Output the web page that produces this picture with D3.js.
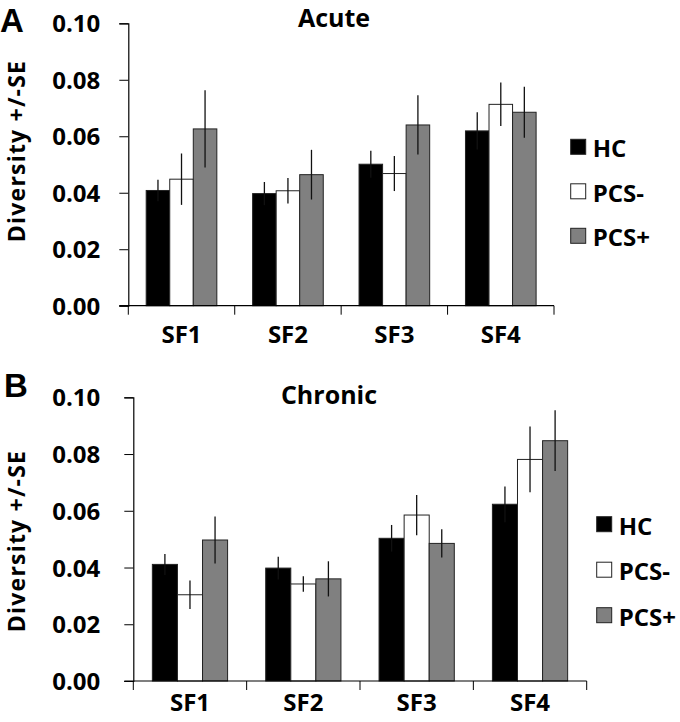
<!DOCTYPE html>
<html>
<head>
<meta charset="utf-8">
<script src="https://cdn.jsdelivr.net/npm/d3@7"></script>
<style>
body { margin: 0; background: #fff; }
text { font-family: "Open Sans", Lato, sans-serif; font-weight: bold; fill: #000; }
.letter { font-family: "Liberation Sans", Arial, sans-serif; }
</style>
</head>
<body>
<script>
//categories, groups and tick values
var categories = ["SF1", "SF2", "SF3", "SF4"];
var groups = ["HC", "PCS-", "PCS+"];
var groupColors = ["#000000", "#ffffff", "#808080"];
var yTicks = [0, 0.02, 0.04, 0.06, 0.08, 0.10];

//acute panel: means and standard errors per group
var acuteHC = [0.0408, 0.0397, 0.0501, 0.0619];
var acuteHCse = [0.0038, 0.0041, 0.0048, 0.0066];
var acutePCSneg = [0.0448, 0.0407, 0.0468, 0.0713];
var acutePCSnegSe = [0.0091, 0.0045, 0.0062, 0.0077];
var acutePCSpos = [0.0626, 0.0464, 0.0640, 0.0685];
var acutePCSposSe = [0.0137, 0.0088, 0.0105, 0.0090];

//chronic panel
var chronicHC = [0.0411, 0.0398, 0.0503, 0.0623];
var chronicHCse = [0.0037, 0.0040, 0.0047, 0.0063];
var chronicPCSneg = [0.0304, 0.0342, 0.0585, 0.0781];
var chronicPCSnegSe = [0.0050, 0.0027, 0.0071, 0.0116];
var chronicPCSpos = [0.0497, 0.0360, 0.0485, 0.0847];
var chronicPCSposSe = [0.0083, 0.0062, 0.0050, 0.0107];

var svg = d3.select("body").append("svg")
    .attr("width", 680)
    .attr("height", 722);

drawPanel({
    letter: "A", letterX: 0, letterY: 32,
    title: "Acute", titleX: 334, titleY: 27,
    x0: 128.3, x1: 554, yBottom: 305.7, yTop: 23.3,
    labelY: 343, tickPad: 19, yTitleCenter: 151,
    legendX: 570.7, legendY: 139.3, legendStep: 44.5,
    means: [acuteHC, acutePCSneg, acutePCSpos],
    ses: [acuteHCse, acutePCSnegSe, acutePCSposSe]
});

drawPanel({
    letter: "B", letterX: 4, letterY: 397,
    title: "Chronic", titleX: 329, titleY: 404,
    x0: 133.3, x1: 586.7, yBottom: 681, yTop: 397.3,
    labelY: 711, tickPad: 24, yTitleCenter: 541,
    legendX: 596.7, legendY: 516.7, legendStep: 45.5,
    means: [chronicHC, chronicPCSneg, chronicPCSpos],
    ses: [chronicHCse, chronicPCSnegSe, chronicPCSposSe]
});

function drawPanel(p){

    var g = svg.append("g");

    var x = d3.scaleBand()
        .domain(categories)
        .range([p.x0, p.x1]);

    var xg = d3.scaleBand()
        .domain(groups)
        .range([0, x.bandwidth()])
        .paddingOuter(0.76);

    var y = d3.scaleLinear()
        .domain([0, 0.1])
        .range([p.yBottom, p.yTop]);

    //bars
    groups.forEach(function(grp, gi){
        g.selectAll(".bar" + gi)
            .data(categories)
            .enter()
            .append("rect")
            .attr("x", function(d){ return x(d) + xg(grp); })
            .attr("y", function(d, i){ return y(p.means[gi][i]); })
            .attr("width", xg.bandwidth())
            .attr("height", function(d, i){ return p.yBottom - y(p.means[gi][i]); })
            .attr("fill", groupColors[gi])
            .attr("stroke", "#222")
            .attr("stroke-width", 1);
    });

    //error bars
    groups.forEach(function(grp, gi){
        g.selectAll(".err" + gi)
            .data(categories)
            .enter()
            .append("line")
            .attr("x1", function(d){ return x(d) + xg(grp) + xg.bandwidth() / 2; })
            .attr("x2", function(d){ return x(d) + xg(grp) + xg.bandwidth() / 2; })
            .attr("y1", function(d, i){ return y(p.means[gi][i] - p.ses[gi][i]); })
            .attr("y2", function(d, i){ return y(p.means[gi][i] + p.ses[gi][i]); })
            .attr("stroke", "#111")
            .attr("stroke-width", 1.3);
    });

    //y axis
    var yAxis = g.append("g")
        .attr("transform", "translate(" + p.x0 + ",0)")
        .call(d3.axisLeft(y)
            .tickValues(yTicks)
            .tickSize(9)
            .tickPadding(p.tickPad)
            .tickFormat(d3.format(".2f")));
    yAxis.selectAll("text").style("font-size", "24px").attr("dy", "0.36em");
    yAxis.select(".domain").attr("stroke-width", 1.2);

    //x axis baseline and category boundary ticks
    g.append("line")
        .attr("x1", p.x0 - 9).attr("x2", p.x1)
        .attr("y1", p.yBottom).attr("y2", p.yBottom)
        .attr("stroke", "#000").attr("stroke-width", 1.2);

    var bounds = categories.map(function(c){ return x(c); }).concat([p.x1]);
    g.selectAll(".xtick")
        .data(bounds)
        .enter()
        .append("line")
        .attr("x1", function(d){ return d; })
        .attr("x2", function(d){ return d; })
        .attr("y1", p.yBottom)
        .attr("y2", p.yBottom + 9)
        .attr("stroke", "#000");

    g.selectAll(".xlabel")
        .data(categories)
        .enter()
        .append("text")
        .attr("x", function(d){ return x(d) + x.bandwidth() / 2; })
        .attr("y", p.labelY)
        .attr("text-anchor", "middle")
        .style("font-size", "24px")
        .text(function(d){ return d; });

    //y axis title
    g.append("text")
        .attr("transform", "translate(25," + p.yTitleCenter + ") rotate(-90)")
        .attr("text-anchor", "middle")
        .style("font-size", "23px")
        .style("letter-spacing", "1.2px")
        .text("Diversity +/-SE");

    //panel title and letter
    g.append("text")
        .attr("x", p.titleX)
        .attr("y", p.titleY)
        .attr("text-anchor", "middle")
        .style("font-size", "25px")
        .text(p.title);

    g.append("text")
        .attr("class", "letter")
        .attr("x", p.letterX)
        .attr("y", p.letterY)
        .style("font-size", "33px")
        .text(p.letter);

    //legend
    var legend = g.selectAll(".legend")
        .data(groups)
        .enter()
        .append("g")
        .attr("transform", function(d, i){
            return "translate(" + p.legendX + "," + (p.legendY + i * p.legendStep) + ")";
        });

    legend.append("rect")
        .attr("width", 15)
        .attr("height", 15)
        .attr("fill", function(d, i){ return groupColors[i]; })
        .attr("stroke", "#222");

    legend.append("text")
        .attr("x", 22)
        .attr("y", 18)
        .style("font-size", "24px")
        .text(function(d){ return d; });
}
</script>
</body>
</html>
